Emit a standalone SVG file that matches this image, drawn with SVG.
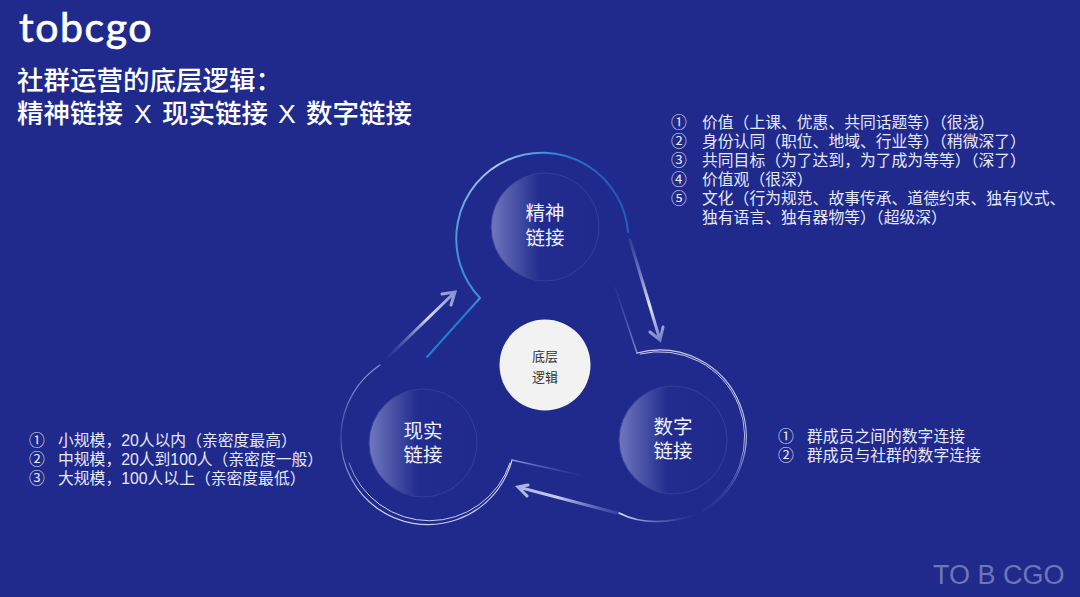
<svg xmlns="http://www.w3.org/2000/svg" width="1080" height="597" viewBox="0 0 1080 597">
<style>
text{font-family:"Liberation Sans","Noto Sans CJK SC",sans-serif;fill:#e6e9f7}
.t{font-size:26.5px;font-weight:500;fill:#fff}
.l{font-size:15.8px}
.n{font-size:19.5px;text-anchor:middle;fill:#eef0fa}
.c{fill:url(#disc);stroke:#333f9f;stroke-width:1}
.line{fill:none;stroke-linecap:round}
</style>
<defs>
<linearGradient id="disc" x1="0" y1="0" x2="1" y2="0"><stop offset="0" stop-color="#6f78bd"/><stop offset=".45" stop-color="#222c8e"/><stop offset="1" stop-color="#1f2a8c"/></linearGradient>
<linearGradient id="gTop" gradientUnits="userSpaceOnUse" x1="455" y1="300" x2="630" y2="200"><stop offset="0" stop-color="#1f7fd0"/><stop offset=".5" stop-color="#a9cdf0"/><stop offset=".8" stop-color="#2a85d6"/><stop offset="1" stop-color="#1d4fae"/></linearGradient>
<linearGradient id="gRight" gradientUnits="userSpaceOnUse" x1="700" y1="350" x2="715" y2="512"><stop offset="0" stop-color="#c9d0ee"/><stop offset=".6" stop-color="#aab4e2"/><stop offset="1" stop-color="#4a56b0" stop-opacity=".1"/></linearGradient>
<linearGradient id="gRB" gradientUnits="userSpaceOnUse" x1="619" y1="513" x2="700" y2="510"><stop offset="0" stop-color="#dfe5f8"/><stop offset="1" stop-color="#4a56b0" stop-opacity="0"/></linearGradient>
<linearGradient id="gLeft" gradientUnits="userSpaceOnUse" x1="380" y1="365" x2="440" y2="525"><stop offset="0" stop-color="#8a94d2"/><stop offset=".3" stop-color="#3f4ba8"/><stop offset=".75" stop-color="#d5daf3"/><stop offset="1" stop-color="#c3caee"/></linearGradient>
<linearGradient id="gL1" gradientUnits="userSpaceOnUse" x1="615" y1="287" x2="637" y2="353"><stop offset="0" stop-color="#5360b8" stop-opacity=".1"/><stop offset="1" stop-color="#7e89cc"/></linearGradient>
<linearGradient id="gL2" gradientUnits="userSpaceOnUse" x1="512" y1="460" x2="580" y2="475"><stop offset="0" stop-color="#8f99d6"/><stop offset="1" stop-color="#5360b8" stop-opacity=".1"/></linearGradient>
<linearGradient id="a1" gradientUnits="userSpaceOnUse" x1="388" y1="357" x2="455" y2="292"><stop offset="0" stop-color="#5a66bb" stop-opacity=".1"/><stop offset=".6" stop-color="#d5daf3"/><stop offset="1" stop-color="#8791d0"/></linearGradient>
<linearGradient id="a2" gradientUnits="userSpaceOnUse" x1="630" y1="240" x2="660" y2="340"><stop offset="0" stop-color="#5a66bb" stop-opacity=".3"/><stop offset=".65" stop-color="#e0e5f8"/><stop offset="1" stop-color="#7681c8"/></linearGradient>
<linearGradient id="a3" gradientUnits="userSpaceOnUse" x1="617" y1="513" x2="518" y2="487"><stop offset="0" stop-color="#6a75c2" stop-opacity=".3"/><stop offset=".6" stop-color="#c5cdf0"/><stop offset="1" stop-color="#aab3e4"/></linearGradient>
</defs>
<rect width="1080" height="597" fill="#1f2a8c"/>
<g id="connectors">
<path class="line" stroke="url(#gTop)" stroke-width="2" d="M628 232A86 86 0 1 0 480 298L427 357"/>
<path class="line" stroke="url(#gL1)" stroke-width="1.5" d="M615 287L637 353"/>
<path class="line" stroke="url(#gRight)" stroke-width="1.2" d="M637 353A86.500 86.500 0 0 1 700 513"/>
<path class="line" stroke="url(#gRight)" stroke-width="1" d="M640 354A85 85 0 0 1 702 510.400"/>
<path class="line" stroke="url(#gRB)" stroke-width="1.500" d="M619 513Q650 529 695 515"/>
<path class="line" stroke="url(#gLeft)" stroke-width="1.200" d="M380 365A87 87 0 1 0 512 460"/>
<path class="line" stroke="url(#gLeft)" stroke-width="1" d="M349 463A85 85 0 0 0 510 463"/>
<path class="line" stroke="url(#gL2)" stroke-width="1.500" d="M512 460L580 475"/>
<path class="line" stroke="url(#a1)" stroke-width="3" d="M388 357L455 292M442 294L455 292L451 305"/>
<path class="line" stroke="url(#a2)" stroke-width="3" d="M630 240L660 340M650 332L660 340L663 327"/>
<path class="line" stroke="url(#a3)" stroke-width="3" d="M617 513L518 487M528 485L518 487L527 496"/>
</g>
<g id="node-spirit"><circle class="c" cx="545" cy="227" r="54"/><text class="n" x="545" y="220">精神</text><text class="n" x="545" y="245">链接</text></g>
<g id="node-digital"><circle class="c" cx="673" cy="440" r="54"/><text class="n" x="673" y="434">数字</text><text class="n" x="673" y="458">链接</text></g>
<g id="node-real"><circle class="c" cx="423" cy="443" r="54"/><text class="n" x="423" y="438">现实</text><text class="n" x="423" y="462">链接</text></g>
<g id="node-center"><circle cx="545" cy="365" r="45.500" fill="#f2f2f2"/><text x="545" y="361" text-anchor="middle" font-size="13" style="fill:#333">底层</text><text x="545" y="382" text-anchor="middle" font-size="13" style="fill:#333">逻辑</text></g>
<g id="logo"><text x="19" y="42" font-size="41" style="font-family:Lato,sans-serif;fill:#fff;stroke:#fff;stroke-width:.7;letter-spacing:1.6px">tobcgo</text></g>
<g id="title"><text class="t" x="17" y="90">社群运营的底层逻辑：</text><text class="t" x="17" y="123">精神链接</text><text class="t" x="134" y="123">X</text><text class="t" x="162" y="123">现实链接</text><text class="t" x="278" y="123">X</text><text class="t" x="306" y="123">数字链接</text></g>
<g id="list-spirit">
<text class="l" x="671" y="128">①</text><text class="l" x="702" y="128">价值（上课、优惠、共同话题等）（很浅）</text>
<text class="l" x="671" y="147">②</text><text class="l" x="702" y="147">身份认同（职位、地域、行业等）（稍微深了）</text>
<text class="l" x="671" y="166">③</text><text class="l" x="702" y="166">共同目标（为了达到，为了成为等等）（深了）</text>
<text class="l" x="671" y="185">④</text><text class="l" x="702" y="185">价值观（很深）</text>
<text class="l" x="671" y="204">⑤</text><text class="l" x="702" y="204">文化（行为规范、故事传承、道德约束、独有仪式、</text>
<text class="l" x="702" y="223">独有语言、独有器物等）（超级深）</text>
</g>
<g id="list-real">
<text class="l" x="29" y="446">①</text><text class="l" x="58" y="446">小规模，20人以内（亲密度最高）</text>
<text class="l" x="29" y="465">②</text><text class="l" x="58" y="465">中规模，20人到100人（亲密度一般）</text>
<text class="l" x="29" y="484">③</text><text class="l" x="58" y="484">大规模，100人以上（亲密度最低）</text>
</g>
<g id="list-digital">
<text class="l" x="778" y="442">①</text><text class="l" x="807" y="442">群成员之间的数字连接</text>
<text class="l" x="778" y="461">②</text><text class="l" x="807" y="461">群成员与社群的数字连接</text>
</g>
<text x="933" y="584" font-size="27" style="fill:#6e76b4">TO B CGO</text>
</svg>
